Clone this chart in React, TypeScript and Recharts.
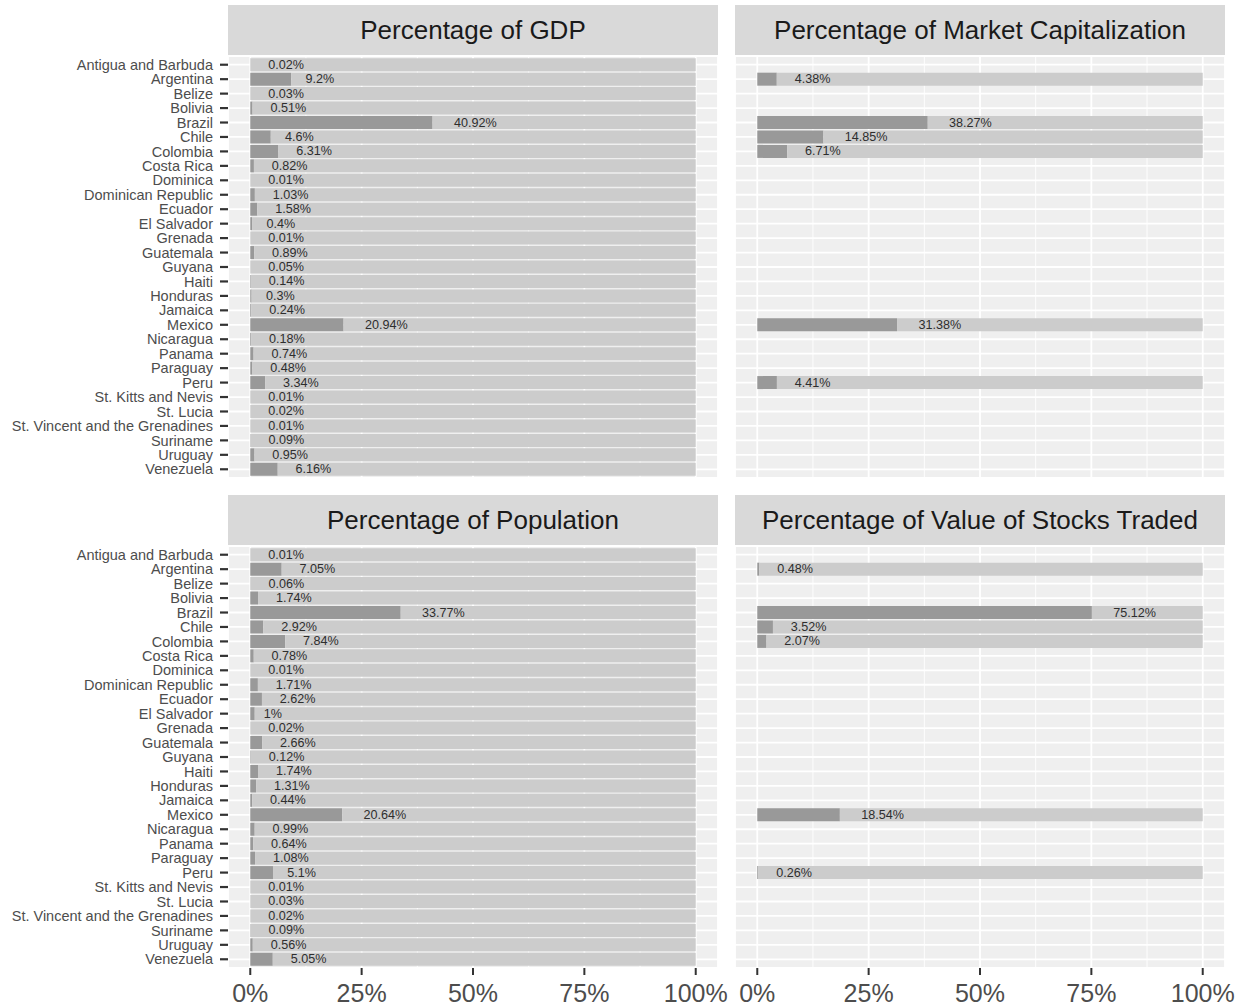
import React from 'react';
import {
  BarChart,
  Bar,
  XAxis,
  YAxis,
  CartesianGrid,
  LabelList
} from 'recharts';

const countries = [
  'Antigua and Barbuda', 'Argentina', 'Belize', 'Bolivia', 'Brazil', 'Chile',
  'Colombia', 'Costa Rica', 'Dominica', 'Dominican Republic', 'Ecuador',
  'El Salvador', 'Grenada', 'Guatemala', 'Guyana', 'Haiti', 'Honduras',
  'Jamaica', 'Mexico', 'Nicaragua', 'Panama', 'Paraguay', 'Peru',
  'St. Kitts and Nevis', 'St. Lucia', 'St. Vincent and the Grenadines',
  'Suriname', 'Uruguay', 'Venezuela'
];

const gdpShare = [
  0.02, 9.2, 0.03, 0.51, 40.92, 4.6, 6.31, 0.82, 0.01, 1.03, 1.58, 0.4, 0.01,
  0.89, 0.05, 0.14, 0.3, 0.24, 20.94, 0.18, 0.74, 0.48, 3.34, 0.01, 0.02, 0.01,
  0.09, 0.95, 6.16
];

const marketCapShare = [
  null, 4.38, null, null, 38.27, 14.85, 6.71, null, null, null, null, null, null,
  null, null, null, null, null, 31.38, null, null, null, 4.41, null, null, null,
  null, null, null
];

const populationShare = [
  0.01, 7.05, 0.06, 1.74, 33.77, 2.92, 7.84, 0.78, 0.01, 1.71, 2.62, 1, 0.02,
  2.66, 0.12, 1.74, 1.31, 0.44, 20.64, 0.99, 0.64, 1.08, 5.1, 0.01, 0.03, 0.02,
  0.09, 0.56, 5.05
];

const stocksTradedShare = [
  null, 0.48, null, null, 75.12, 3.52, 2.07, null, null, null, null, null, null,
  null, null, null, null, null, 18.54, null, null, null, 0.26, null, null, null,
  null, null, null
];

const majorTicks = [0, 25, 50, 75, 100];
const minorTicks = [12.5, 37.5, 62.5, 87.5];

const FONT = '"Liberation Sans", Arial, Helvetica, sans-serif';
const LABEL_SIZE = 12.6;

// rough Arial advance widths, in em
const charWidth = (ch: string) => {
  if (ch === '.') return 0.278;
  if (ch === '%') return 0.889;
  return 0.556;
};
const textWidth = (s: string, size: number) =>
  s.split('').reduce((acc, ch) => acc + charWidth(ch), 0) * size;

const ValueLabel = (props: any) => {
  const { x, y, width, height, value } = props;
  if (value == null) return null;
  const text = `${value}%`;
  const w = textWidth(text, LABEL_SIZE);
  // hjust = -0.5: text starts half its width past the bar end
  const tx = Number(x) + Number(width) + w / 2;
  return (
    <text
      x={tx}
      y={Number(y) + Number(height) / 2}
      dominantBaseline="central"
      fontSize={LABEL_SIZE}
      fontFamily={FONT}
      fill="#2E2E2E"
    >
      {text}
    </text>
  );
};

type PanelProps = {
  title: string;
  values: (number | null)[];
  left: number;
  top: number;
  showY: boolean;
  showX: boolean;
};

const Panel: React.FC<PanelProps> = ({ title, values, left, top, showY, showX }) => {
  const data = countries.map((c, i) => ({
    country: c,
    value: values[i],
    rest: values[i] == null ? null : 100 - (values[i] as number)
  }));
  const yWidth = showY ? 228 : 0;
  const panelW = 490;
  const panelH = 422;
  const xH = showX ? 40 : 0;
  const rightPad = 24;

  return (
    <>
      <div
        style={{
          position: 'absolute',
          left: left + yWidth,
          top: top - 51,
          width: panelW,
          height: 50,
          background: '#D9D9D9',
          color: '#1A1A1A',
          fontFamily: FONT,
          fontSize: 26,
          display: 'flex',
          alignItems: 'center',
          justifyContent: 'center'
        }}
      >
        {title}
      </div>
      <div style={{ position: 'absolute', left, top }}>
        <BarChart
          width={yWidth + panelW + rightPad}
          height={panelH + xH}
          data={data}
          layout="vertical"
          margin={{ top: 0, right: rightPad, bottom: 0, left: 0 }}
          barCategoryGap="5%"
          style={{ overflow: 'visible' }}
        >
          <CartesianGrid
            fill="#EFEFEF"
            stroke="#FFFFFF"
            strokeWidth={1.8}
            horizontal
            vertical
          />
          <CartesianGrid
            xAxisId="minor"
            horizontal={false}
            vertical
            stroke="#FFFFFF"
            strokeWidth={0.9}
          />
          <XAxis
            type="number"
            domain={[-5, 105]}
            ticks={majorTicks}
            interval={0}
            allowDataOverflow
            hide={!showX}
            height={xH}
            tickFormatter={(v: number) => `${v}%`}
            axisLine={false}
            tickSize={7}
            tickMargin={9}
            tickLine={{ stroke: '#333333', strokeWidth: 2 }}
            tick={{ fill: '#4D4D4D', fontSize: 25, fontFamily: FONT }}
          />
          <XAxis
            xAxisId="minor"
            type="number"
            domain={[-5, 105]}
            ticks={minorTicks}
            interval={0}
            allowDataOverflow
            hide
          />
          <YAxis
            type="category"
            dataKey="country"
            width={yWidth}
            hide={!showY}
            interval={0}
            padding={{ top: 1.5, bottom: 1.5 }}
            axisLine={false}
            tickSize={8}
            tickMargin={7}
            tickLine={{ stroke: '#333333', strokeWidth: 2.2 }}
            tick={{ fill: '#4D4D4D', fontSize: 14.5, fontFamily: FONT }}
          />
          <Bar dataKey="value" stackId="s" fill="#999999" isAnimationActive={false}>
            <LabelList dataKey="value" content={ValueLabel} />
          </Bar>
          <Bar dataKey="rest" stackId="s" fill="#CCCCCC" isAnimationActive={false} />
        </BarChart>
      </div>
    </>
  );
};

export default function App() {
  return (
    <div
      style={{
        position: 'absolute',
        left: 0,
        top: 0,
        width: 1250,
        height: 1008,
        background: '#FFFFFF',
        overflow: 'hidden'
      }}
    >
      <Panel title="Percentage of GDP" values={gdpShare} left={0} top={56} showY showX={false} />
      <Panel
        title="Percentage of Market Capitalization"
        values={marketCapShare}
        left={735}
        top={56}
        showY={false}
        showX={false}
      />
      <Panel title="Percentage of Population" values={populationShare} left={0} top={546} showY showX />
      <Panel
        title="Percentage of Value of Stocks Traded"
        values={stocksTradedShare}
        left={735}
        top={546}
        showY={false}
        showX
      />
    </div>
  );
}
